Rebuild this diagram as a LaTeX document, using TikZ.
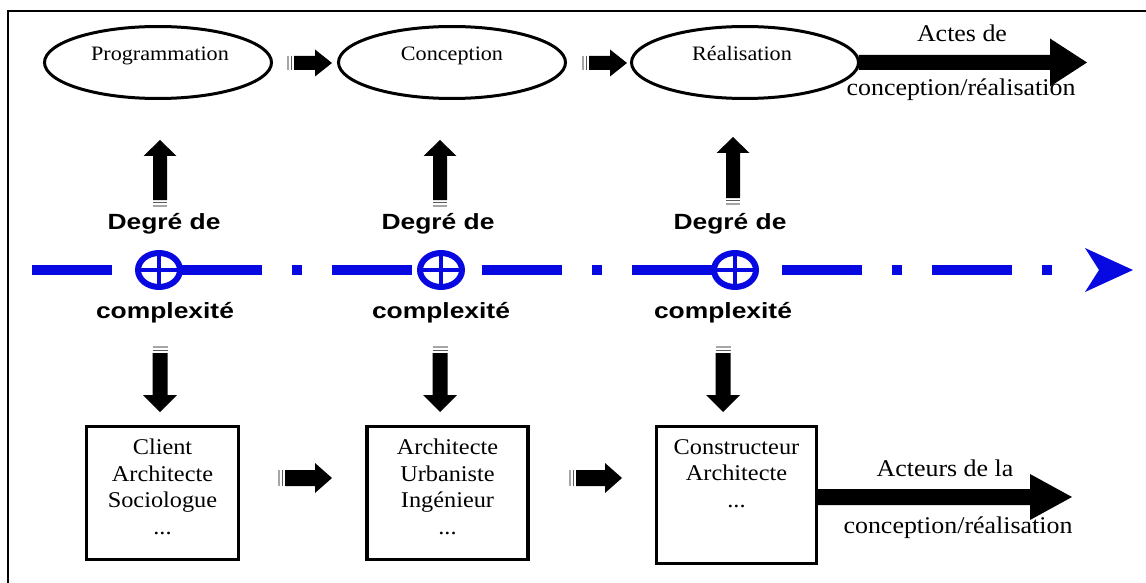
\documentclass[tikz,border=0pt]{standalone}
\usepackage{fontspec}
\setmainfont{Liberation Serif}[FakeStretch=1.08]
\newfontfamily\axisfont{Liberation Sans}[FakeStretch=1.2]
\usetikzlibrary{shapes.geometric,calc}

\definecolor{axisblue}{RGB}{8,8,225}
\definecolor{bardark}{gray}{0.35}
\definecolor{barlight}{gray}{0.65}

\tikzset{
  stage/.style={ellipse, draw, line width=3pt, minimum width=227pt, minimum height=72pt, inner sep=0pt, outer sep=0pt},
  stagelabel/.style={anchor=base, inner sep=0pt, font=\fontsize{20.5}{24}\selectfont},
  actorbox/.style={rectangle, draw, line width=3.5pt, inner sep=0pt, outer sep=0pt},
  actortext/.style={anchor=north, inner sep=0pt, align=center, font=\fontsize{22.5}{26.5}\selectfont},
  flowlabel/.style={anchor=base, inner sep=0pt, font=\fontsize{24}{28}\selectfont},
  degree/.style={anchor=base, inner sep=0pt, font=\axisfont\bfseries\fontsize{22}{26}\selectfont},
  junction/.style={ellipse, draw=axisblue, fill=white, line width=6pt, minimum width=42pt, minimum height=34pt, inner sep=0pt, outer sep=0pt},
  junctioncross/.style={draw=axisblue, line width=4pt},
  axisline/.style={draw=axisblue, line width=9.5pt, dash pattern=on 80pt off 30pt on 10pt off 30pt},
}

% filled block arrow: #1 tail, #2 tip, #3 half shaft width, #4 half head width, #5 head length
\newcommand{\blockarrow}[5]{%
  \coordinate (ba-base) at ($(#2)!#5!(#1)$);
  \fill ($(#1)!#3!90:(#2)$) -- ($(ba-base)!#3!90:(#2)$) -- ($(ba-base)!#4!90:(#2)$) -- (#2)
     -- ($(ba-base)!#4!-90:(#2)$) -- ($(ba-base)!#3!-90:(#2)$) -- ($(#1)!#3!-90:(#2)$) -- cycle;
}
% two thin bars behind the tail of a block arrow
\newcommand{\tailbars}[3]{%
  \coordinate (tb-a) at ($(#1)!2.5pt!180:(#2)$);
  \coordinate (tb-b) at ($(#1)!6pt!180:(#2)$);
  \draw[bardark, line width=1.4pt] ($(tb-a)!#3!90:(#2)$) -- ($(tb-a)!#3!-90:(#2)$);
  \draw[barlight, line width=1.3pt] ($(tb-b)!#3!90:(#2)$) -- ($(tb-b)!#3!-90:(#2)$);
}

\begin{document}
\begin{tikzpicture}[x=1pt, y=-1pt]
\useasboundingbox (0,0) rectangle (1146,583);

% frame
\draw[line width=1.6pt] (8,583) -- (8,11) -- (1146,11);

% stages of the process
\node[stage] (e1) at (158,62.5) {};
\node[stage] (e2) at (452,62.5) {};
\node[stage] (e3) at (745,62.5) {};
\node[stagelabel] (l1) at (160,61) {Programmation};
\node[stagelabel] (l2) at (452,61) {Conception};
\node[stagelabel] (l3) at (742,61) {Réalisation};

% arrows between the stages
\coordinate (s1a) at (294,63); \coordinate (s1b) at (332,63);
\tailbars{s1a}{s1b}{7pt}\blockarrow{s1a}{s1b}{7pt}{13.5pt}{17pt}
\coordinate (s2a) at (589,63); \coordinate (s2b) at (627,63);
\tailbars{s2a}{s2b}{7pt}\blockarrow{s2a}{s2b}{7pt}{13.5pt}{17pt}

% acts of design / realisation
\coordinate (actes) at (1087,62.5);
\blockarrow{e3.east}{actes}{7.5pt}{24pt}{37pt}
\node[flowlabel] (actes-t) at (962,42) {Actes de};
\node[flowlabel] (actes-b) at (961,96) {conception/réalisation};

% complexity axis
\coordinate (ax0) at (32,270);
\coordinate (ax1) at (1053,270);
\draw[axisline] (ax0) -- (ax1);
\coordinate (axtip) at (1133,270);
\fill[axisblue] (axtip) -- ++(-48,-22) -- ++(14,22) -- ++(-14,22) -- cycle;

\node[junction] (j1) at (159,270) {};
\node[junction] (j2) at (441,270) {};
\node[junction] (j3) at (735,270) {};
\foreach \j in {j1,j2,j3}
  \draw[junctioncross] (\j.north) -- (\j.south) (\j.west) -- (\j.east);

\node[degree] (d1) at (164,229) {Degré de};
\node[degree] (d2) at (438,229) {Degré de};
\node[degree] (d3) at (730,229) {Degré de};
\node[degree] (c1) at (165,318) {complexité};
\node[degree] (c2) at (441,318) {complexité};
\node[degree] (c3) at (723,318) {complexité};

% arrows up to the stages
\coordinate (u1a) at (160,200); \coordinate (u1b) at (160,140);
\coordinate (u2a) at (440,200); \coordinate (u2b) at (440,140);
\coordinate (u3a) at (733,198); \coordinate (u3b) at (733,137);
\foreach \a/\b in {u1a/u1b,u2a/u2b,u3a/u3b}{
  \tailbars{\a}{\b}{7pt}\blockarrow{\a}{\b}{7pt}{16.5pt}{16pt}
}

% arrows down to the actors
\coordinate (w1a) at (160,353); \coordinate (w1b) at (160,412);
\coordinate (w2a) at (440,353); \coordinate (w2b) at (440,412);
\coordinate (w3a) at (723,353); \coordinate (w3b) at (723,412);
\foreach \a/\b in {w1a/w1b,w2a/w2b,w3a/w3b}{
  \tailbars{\a}{\b}{7.5pt}\blockarrow{\a}{\b}{7.5pt}{17pt}{17pt}
}

% actors
\node[actorbox, minimum width=152pt, minimum height=133pt] (b1) at (162.5,493) {};
\node[actorbox, minimum width=161pt, minimum height=133pt] (b2) at (447.5,493) {};
\node[actorbox, minimum width=160pt, minimum height=137pt] (b3) at (736.5,495) {};
\node[actortext] (t1) at ($(b1.north)+(0,12.5)$) {Client\\Architecte\\Sociologue\\...};
\node[actortext] (t2) at ($(b2.north)+(0,12.5)$) {Architecte\\Urbaniste\\Ingénieur\\...};
\node[actortext] (t3) at ($(b3.north)+(0,12.5)$) {Constructeur\\Architecte\\...};

% arrows between the actors
\coordinate (m1a) at (285,478); \coordinate (m1b) at (332,478);
\tailbars{m1a}{m1b}{8pt}\blockarrow{m1a}{m1b}{8pt}{15pt}{17pt}
\coordinate (m2a) at (576,478); \coordinate (m2b) at (622,478);
\tailbars{m2a}{m2b}{8pt}\blockarrow{m2a}{m2b}{8pt}{15pt}{17pt}

% actors of design / realisation
\coordinate (b3out) at ($(b3.east)+(0,2)$);
\coordinate (acteurs) at (1072,497);
\blockarrow{b3out}{acteurs}{8pt}{23pt}{42pt}
\node[flowlabel] (acteurs-t) at (945,476) {Acteurs de la};
\node[flowlabel] (acteurs-b) at (958,533) {conception/réalisation};
\end{tikzpicture}
\end{document}
